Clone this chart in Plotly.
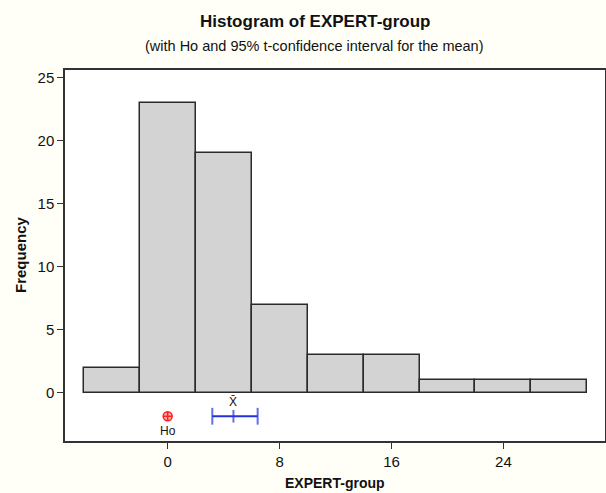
import plotly.graph_objects as go

# Data
bin_centers = [-4, 0, 4, 8, 12, 16, 20, 24, 28]
frequencies = [2, 23, 19, 7, 3, 3, 1, 1, 1]
bin_width = 4
h0_value = 0
ci_low = 3.19
ci_high = 6.43
sample_mean = 4.7
marker_level = -1.85
x_ticks = [0, 8, 16, 24]
y_ticks = [0, 5, 10, 15, 20, 25]

FONT = "Liberation Sans, Arial, sans-serif"

L, R, T, B = 65, 1, 70, 52
PW, PH = 606 - L - R, 493 - T - B


def px_x(px):
    return (px - L) / PW


def px_y(py):
    return 1 - (py - T) / PH


fig = go.Figure()

fig.add_trace(go.Bar(
    x=bin_centers, y=frequencies, width=[bin_width] * len(bin_centers),
    marker=dict(color="#D3D3D3", line=dict(color="#2a2a2a", width=1.5)),
    showlegend=False, hoverinfo="x+y",
))

# 95% t-confidence interval for the mean
fig.add_trace(go.Scatter(
    x=[ci_low, ci_high], y=[marker_level, marker_level], mode="lines",
    line=dict(color="#2233DD", width=2), showlegend=False,
))
fig.add_trace(go.Scatter(
    x=[ci_low, sample_mean, ci_high], y=[marker_level] * 3, mode="markers",
    marker=dict(symbol="line-ns", size=[12, 9, 12], color="#2233DD",
                line=dict(color="#2233DD", width=2)),
    showlegend=False,
))
# Ho marker
fig.add_trace(go.Scatter(
    x=[h0_value], y=[marker_level], mode="markers",
    marker=dict(symbol="circle-cross", size=9, color="#FFB0B0",
                line=dict(color="#FF2020", width=1.5)),
    showlegend=False,
))

fig.add_annotation(x=h0_value, y=marker_level, text="Ho", showarrow=False,
                   yshift=-15, font=dict(family=FONT, size=12, color="#111"))
fig.add_annotation(x=sample_mean, y=marker_level, text="X̄", showarrow=False,
                   yshift=14, font=dict(family=FONT, size=12, color="#111"))

extra = [
    dict(text="<b>Histogram of EXPERT-group</b>", x=px_x(315), y=px_y(21),
         font=dict(family=FONT, size=17, color="#111")),
    dict(text="(with Ho and 95% t-confidence interval for the mean)", x=px_x(314), y=px_y(46),
         font=dict(family=FONT, size=14.5, color="#111")),
    dict(text="<b>EXPERT-group</b>", x=px_x(335), y=px_y(483),
         font=dict(family=FONT, size=14, color="#111")),
    dict(text="<b>Frequency</b>", x=px_x(21), y=px_y(255), textangle=-90,
         font=dict(family=FONT, size=15, color="#111")),
]
for a in extra:
    a.update(xref="paper", yref="paper", showarrow=False,
             xanchor="center", yanchor="middle")
    fig.add_annotation(**a)

fig.update_layout(
    width=606, height=493,
    margin=dict(l=L, r=R, t=T, b=B, autoexpand=False),
    paper_bgcolor="#FFFFF7", plot_bgcolor="white",
    bargap=0,
    font=dict(family=FONT, size=14, color="#111"),
)

fig.update_xaxes(
    range=[-7.34, 31.26], tickvals=x_ticks, ticks="outside", ticklen=6,
    tickcolor="#333", showgrid=False, zeroline=False, automargin=False,
    showline=True, linecolor="#333", linewidth=1.5, mirror=True,
    tickfont=dict(family=FONT, size=15),
)
fig.update_yaxes(
    range=[-3.81, 25.58], tickvals=y_ticks, ticks="outside", ticklen=6,
    tickcolor="#333", showgrid=False, zeroline=False, automargin=False,
    showline=True, linecolor="#333", linewidth=1.5, mirror=True,
    tickfont=dict(family=FONT, size=15),
)

fig.write_html(
    "out.html",
    config={"displayModeBar": False},
    post_script="document.body.style.margin='0';document.body.style.overflow='hidden';",
)
